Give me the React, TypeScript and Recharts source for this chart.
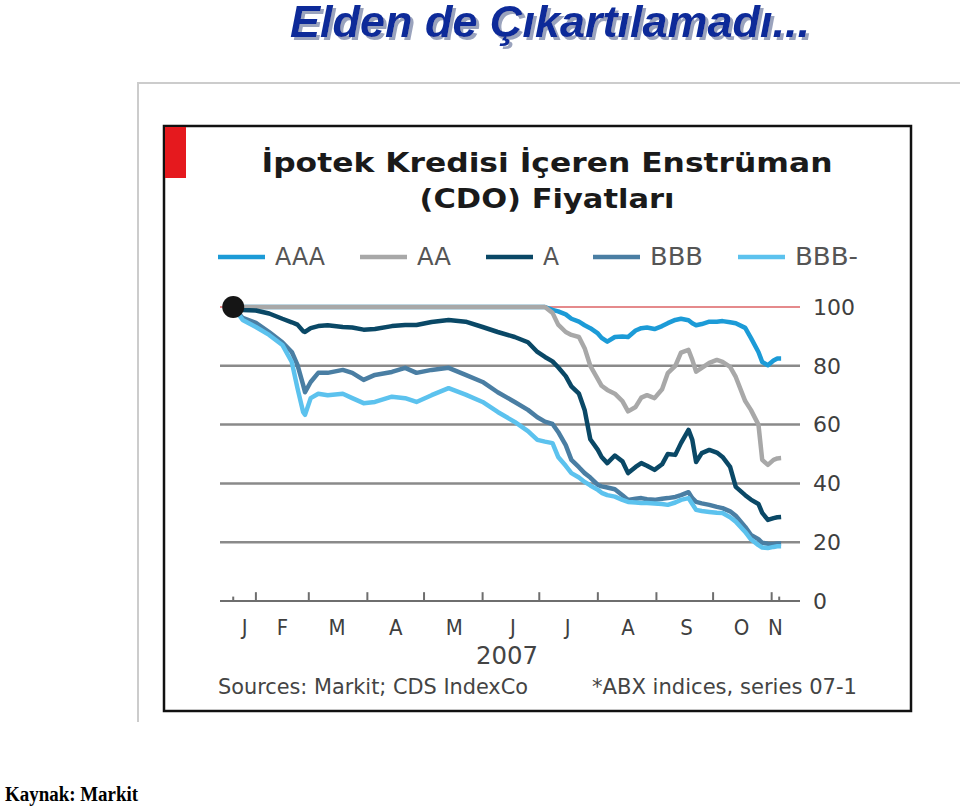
import { LineChart, Line, XAxis, YAxis, ReferenceLine, ReferenceDot } from 'recharts';

// day of year 2007 for each sample
const DAYS = [
  19, 24, 31, 38, 45, 50, 53, 56, 57, 60,
  64, 69, 77, 82, 88, 94, 103, 110, 116, 124,
  133, 142, 151, 159, 168, 175, 180, 184, 188, 191,
  195, 198, 202, 205, 208, 212, 214, 217, 221, 225,
  228, 232, 235, 238, 242, 246, 249, 253, 256, 260,
  262, 264, 267, 271, 275, 278, 282, 285, 290, 293,
  297, 299, 302, 305, 307, 309,
];

const AAA = [
  100, 100, 100, 100, 100, 100, 100, 100, 100, 100,
  100, 100, 100, 100, 100, 100, 100, 100, 100, 100,
  100, 100, 100, 100, 100, 100, 100, 100, 99, 98.5,
  97.5, 96, 95, 93.8, 92.8, 91, 89.5, 88.2, 89.8, 90,
  89.8, 92, 92.8, 93, 92.5, 93.5, 94.5, 95.6, 96, 95.5,
  94.5, 93.8, 94.2, 95, 95, 95.2, 94.8, 94.5, 92.9, 89.5,
  84.7, 81.3, 80.2, 81.8, 82.5, 82.5,
];

const AA = [
  100, 100, 100, 100, 100, 100, 100, 100, 100, 100,
  100, 100, 100, 100, 100, 100, 100, 100, 100, 100,
  100, 100, 100, 100, 100, 100, 100, 100, 98, 94,
  91.5, 90.5, 89.8, 86, 80, 75.5, 73.2, 71.8, 70.5, 68,
  64.5, 66, 69.2, 70, 69, 72, 77.5, 80, 84.5, 85.4,
  82, 78, 79.3, 81, 82, 81.3, 79.6, 76.2, 68, 65,
  60, 48, 46.3, 48, 48.5, 48.6,
];

const A = [
  100, 99, 98.8, 97.8, 96, 94.8, 94, 91.8, 91.5, 92.8,
  93.5, 93.8, 93.2, 93, 92.3, 92.5, 93.5, 93.9, 93.9, 94.9,
  95.6, 95, 93.2, 91.5, 89.8, 88, 84.7, 83, 81.5, 79.5,
  76.5, 73, 70.5, 65, 55, 51.4, 49, 46.9, 49.5, 47.5,
  43.5, 45.6, 46.9, 46, 44.6, 46.5, 50, 49.7, 53.7, 58.2,
  54.8, 47.3, 50.3, 51.4, 50.5, 49, 45.6, 38.8, 36, 34.5,
  33, 30, 27.6, 28.2, 28.5, 28.6,
];

const BBB = [
  100, 96.3, 94.6, 91.5, 88, 84.7, 80.3, 73.5, 71, 74.5,
  77.6, 77.6, 78.6, 77.6, 75.2, 76.9, 77.9, 79.3, 77.6, 78.6,
  79.3, 76.9, 74.5, 71, 67.7, 65, 62.5, 61, 60.2, 57.5,
  53, 48, 45.5, 43.5, 42, 39.5, 39, 38.6, 38, 36,
  34.4, 34.8, 35, 34.6, 34.4, 34.8, 35, 35.4, 36, 37,
  35, 33.7, 33.2, 32.7, 32, 31.6, 30.5, 29, 25.2, 22.5,
  21, 19.8, 19.5, 19.4, 19.6, 19.6,
];

const BBB_MINUS = [
  100, 95.6, 93.2, 90.5, 87.1, 81.3, 72.4, 64.3, 63.3, 69,
  70.5, 70, 70.5, 69, 67.3, 67.7, 69.5, 69, 67.7, 70,
  72.4, 70.2, 67.7, 64.3, 60.9, 57.8, 54.8, 54.2, 53.7, 49,
  46, 43.5, 42, 40.5, 39.3, 37.8, 36.8, 36, 35.5, 34.4,
  33.7, 33.5, 33.3, 33.3, 33.2, 33, 32.7, 33.5, 34.4, 35,
  33, 31, 30.6, 30.3, 30, 29.9, 28.5, 27, 23.5, 21,
  19, 18.2, 18, 18.4, 18.6, 18.6,
];

const MONTH_STARTS = [31, 59, 90, 120, 151, 181, 212, 243, 273, 304];
const EDGE_TICKS = [19, 308];
const MONTH_LABEL_DAYS = [25, 45, 74, 105, 136, 167, 196, 228, 259, 288, 306];
const MONTH_LABELS = ['J', 'F', 'M', 'A', 'M', 'J', 'J', 'A', 'S', 'O', 'N'];
const Y_TICKS = [0, 20, 40, 60, 80, 100];
const GRID_VALUES = [20, 40, 60, 80];

const SERIES = [
  { key: 'AAA', label: 'AAA', values: AAA, color: '#1c9bd7' },
  { key: 'AA', label: 'AA', values: AA, color: '#a8a8a8' },
  { key: 'BBB', label: 'BBB', values: BBB, color: '#4a7ea3' },
  { key: 'BBBm', label: 'BBB-', values: BBB_MINUS, color: '#5cc2ee' },
  { key: 'A', label: 'A', values: A, color: '#0a4866' },
];

// legend as printed: AAA, AA, A, BBB, BBB-
const LEGEND = [
  { key: 'AAA', x: 218, textW: 50 },
  { key: 'AA', x: 360, textW: 34 },
  { key: 'A', x: 486, textW: 16 },
  { key: 'BBB', x: 593, textW: 53 },
  { key: 'BBBm', x: 738, textW: 63 },
];

const data = DAYS.map((day, i) => {
  const row: Record<string, number> = { day };
  SERIES.forEach((s) => {
    row[s.key] = s.values[i];
  });
  return row;
});

const CONDENSED = '"DejaVu Sans Condensed", "Liberation Sans Narrow", "DejaVu Sans", sans-serif';

function Backdrop() {
  return (
    <svg width={960} height={806} style={{ position: 'absolute', left: 0, top: 0 }}>
      <defs>
        <filter id="title-shadow" x="-5%" y="-20%" width="110%" height="140%">
          <feDropShadow dx={3} dy={3} stdDeviation={0.6} floodColor="#9aa3bd" floodOpacity={1} />
        </filter>
      </defs>
      <rect width={960} height={806} fill="#ffffff" />
      <path d="M138,722 L138,83 L960,83" fill="none" stroke="#cccccc" strokeWidth={2} />
      <rect x={164} y={126} width={747} height={585} fill="#ffffff" stroke="#111111" strokeWidth={2.5} />
      <rect x={165} y={127} width={21} height={51} fill="#e5191e" />

      <text x={290} y={37} fontFamily="Liberation Sans, Arial, sans-serif" fontWeight="bold" fontStyle="italic"
        fontSize={44} fill="#0c2c99" textLength={520} lengthAdjust="spacingAndGlyphs" filter="url(#title-shadow)">
        Elden de Çıkartılamadı...
      </text>

      <text x={547} y={172} textAnchor="middle" fontFamily="DejaVu Sans, sans-serif" fontWeight="bold"
        fontSize={27} fill="#1a1a1a" textLength={571} lengthAdjust="spacingAndGlyphs">
        İpotek Kredisi İçeren Enstrüman
      </text>
      <text x={547} y={208} textAnchor="middle" fontFamily="DejaVu Sans, sans-serif" fontWeight="bold"
        fontSize={27} fill="#1a1a1a" textLength={255} lengthAdjust="spacingAndGlyphs">
        (CDO) Fiyatları
      </text>

      {LEGEND.map((l) => {
        const s = SERIES.find((d) => d.key === l.key)!;
        return (
          <g key={l.key}>
            <line x1={l.x} x2={l.x + 47} y1={257} y2={257} stroke={s.color} strokeWidth={4.5} />
            <text x={l.x + 57} y={265} fontFamily={CONDENSED} fontSize={24} fill="#555555"
              textLength={l.textW} lengthAdjust="spacingAndGlyphs">
              {s.label}
            </text>
          </g>
        );
      })}

      <text x={507} y={664} textAnchor="middle" fontFamily={CONDENSED} fontSize={24} fill="#444444"
        textLength={62} lengthAdjust="spacingAndGlyphs">
        2007
      </text>
      <text x={218} y={694} fontFamily={CONDENSED} fontSize={21} fill="#444444"
        textLength={310} lengthAdjust="spacingAndGlyphs">
        Sources: Markit; CDS IndexCo
      </text>
      <text x={592} y={694} fontFamily={CONDENSED} fontSize={21} fill="#444444"
        textLength={265} lengthAdjust="spacingAndGlyphs">
        *ABX indices, series 07-1
      </text>

      <text x={5} y={801} fontFamily="Liberation Serif, Times New Roman, serif" fontWeight="bold"
        fontSize={20} fill="#000000" textLength={133} lengthAdjust="spacingAndGlyphs">
        Kaynak: Markit
      </text>
    </svg>
  );
}

export default function App() {
  return (
    <div style={{ position: 'absolute', left: 0, top: 0, width: 960, height: 806, overflow: 'hidden' }}>
      <Backdrop />
      <div style={{ position: 'absolute', left: 0, top: 0 }}>
        <LineChart width={960} height={806} data={data}
          margin={{ top: 307, right: 100, left: 220, bottom: 165 }}>
          <XAxis
            dataKey="day"
            type="number"
            domain={[12, 319]}
            ticks={MONTH_LABEL_DAYS}
            tickFormatter={(_v: number, i: number) => MONTH_LABELS[i]}
            interval={0}
            height={40}
            tickLine={false}
            tickSize={0}
            tickMargin={18}
            axisLine={{ stroke: '#6e6e6e', strokeWidth: 2 }}
            tick={{ fill: '#3f3f3f', fontSize: 22, fontFamily: CONDENSED }}
          />
          <YAxis
            orientation="right"
            type="number"
            domain={[0, 100]}
            ticks={Y_TICKS}
            interval={0}
            width={60}
            axisLine={false}
            tickLine={false}
            tickSize={0}
            tickMargin={13}
            tick={{ fill: '#3f3f3f', fontSize: 22, fontFamily: 'DejaVu Sans, sans-serif' }}
          />
          {GRID_VALUES.map((v) => (
            <ReferenceLine key={v} y={v} stroke="#8a8a8a" strokeWidth={2.5} />
          ))}
          <ReferenceLine y={100} stroke="#e58a8c" strokeWidth={2} />
          {MONTH_STARTS.map((d) => (
            <ReferenceLine key={d} segment={[{ x: d, y: 0 }, { x: d, y: 3 }]} stroke="#6e6e6e" strokeWidth={2} />
          ))}
          {EDGE_TICKS.map((d) => (
            <ReferenceLine key={`e${d}`} segment={[{ x: d, y: 0 }, { x: d, y: 1.5 }]} stroke="#6e6e6e" strokeWidth={2} />
          ))}
          {SERIES.map((s) => (
            <Line
              key={s.key}
              type="linear"
              dataKey={s.key}
              name={s.label}
              stroke={s.color}
              strokeWidth={4.5}
              strokeLinejoin="round"
              dot={false}
              isAnimationActive={false}
            />
          ))}
          <ReferenceDot x={DAYS[0]} y={100} r={11} fill="#151515" stroke="none" />
        </LineChart>
      </div>
    </div>
  );
}
